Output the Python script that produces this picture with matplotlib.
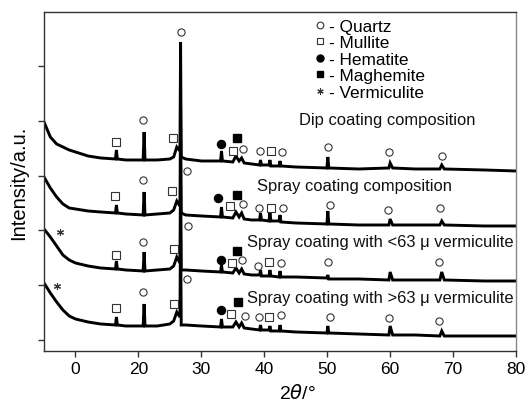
import numpy as np
import matplotlib
matplotlib.use("Agg")
import matplotlib.pyplot as plt
from matplotlib.lines import Line2D

plt.rcParams['font.family'] = ['Liberation Sans', 'DejaVu Sans']

# 2theta grid (degrees) shared by the four patterns
two_theta = [5, 6, 7, 8, 9, 10, 12, 14, 16.35, 16.5, 16.65, 18, 20.75, 20.9, 21.05, 23, 25,
             25.6, 26.1, 26.6, 26.7, 26.8, 27.5, 30, 33.05, 33.2, 33.35, 35.0, 35.5, 36.0,
             36.4, 36.8, 38, 39.25, 39.4, 39.55, 40.75, 40.9, 41.05, 42.35, 42.5, 42.65, 45,
             49.95, 50.1, 50.25, 55, 59.8, 60.0, 60.4, 64, 67.9, 68.2, 68.6, 75, 80]

# intensities (a.u., already offset for stacking)
dip = [229, 214, 207, 204, 201, 199, 195, 193, 192, 201, 192, 191, 191, 219, 191, 191, 192,
       194, 204, 200, 309, 194, 192, 190, 190, 200, 190, 189, 195, 190,
       193, 188, 187, 186, 191, 186, 186, 191, 185, 185, 190, 185, 184,
       183, 194, 183, 182, 183, 188, 183, 182, 182, 186, 182, 181, 180]
spray = [174, 163, 154, 147, 143, 142, 140, 139, 138, 146, 138, 137, 136, 159, 136, 137, 138,
         141, 150, 145, 242, 138, 136, 135, 134, 144, 134, 133, 139, 134,
         138, 132, 131, 131, 138, 131, 130, 139, 130, 130, 136, 129, 128,
         127, 140, 127, 126, 126, 132, 126, 126, 126, 130, 126, 125, 125]
spray_fine = [122, 114, 105, 96, 91, 88, 85, 83, 82, 90, 82, 81, 80, 99, 80, 81, 82,
              85, 94, 88, 187, 81, 81, 80, 79, 86, 79, 78, 83, 78,
              82, 77, 76, 76, 81, 75, 75, 81, 75, 74, 80, 74, 74,
              73, 76, 72, 72, 71, 79, 71, 71, 71, 79, 71, 70, 70]
spray_coarse = [68, 58, 49, 41, 35, 32, 29, 27, 26, 34, 26, 25, 25, 47, 25, 25, 27,
                30, 39, 34, 137, 26, 26, 25, 24, 32, 24, 24, 29, 24,
                28, 23, 22, 21, 26, 21, 21, 25, 20, 20, 26, 20, 19,
                18, 25, 18, 17, 16, 25, 16, 16, 15, 20, 15, 15, 15]

# phase markers: (2theta, a.u.) for each pattern
quartz = {
    'dip': ([26.7, 20.8, 36.6, 39.3, 42.8, 50.2, 59.8, 68.2], [319, 231, 202, 200, 199, 204, 199, 195]),
    'spray': ([27.7, 20.7, 36.6, 39.1, 42.9, 50.4, 59.6, 67.9], [180, 171, 147, 143, 143, 146, 141, 143]),
    'fine': ([27.8, 20.7, 36.4, 39.0, 42.6, 50.2, 67.8], [125, 109, 91, 85, 88, 89, 89]),
    'coarse': ([27.7, 20.8, 36.9, 39.1, 42.6, 50.4, 59.8, 67.8], [72, 59, 35, 34, 36, 34, 33, 30]),
}
mullite = {
    'dip': ([16.5, 25.5, 35.0, 41.0], [209, 213, 200, 200]),
    'spray': ([16.2, 25.4, 34.5, 41.0], [155, 160, 145, 143]),
    'fine': ([16.5, 25.6, 34.8, 40.7], [96, 102, 88, 89]),
    'coarse': ([16.4, 25.7, 34.7, 40.7], [43, 47, 37, 34]),
}
hematite_x = [33.2, 32.7, 33.2, 33.1]
hematite_y = [207, 153, 91, 41]
maghemite_x = [35.6, 35.6, 35.6, 35.9]
maghemite_y = [213, 156, 100, 49]
vermiculite_x = [7.5, 7.0]
vermiculite_y = [119, 65]

labels = ['Dip coating composition', 'Spray coating composition',
          'Spray coating with <63 \u03bc vermiculite', 'Spray coating with >63 \u03bc vermiculite']
label_x = [59.6, 54.3, 58.4, 58.4]
label_y = [231, 165, 109, 53]

x_ticks = [10, 20, 30, 40, 50, 60, 70, 80]
x_tick_labels = ['0', '20', '30', '40', '50', '60', '70', '80']
y_ticks = [11, 66, 121, 175, 230, 285]

open_kw = dict(ls='none', mfc='white', mec='#333333', mew=0.8, ms=5.2, zorder=4)


def plot_patterns(ax):
    for y in [dip, spray, spray_fine, spray_coarse]:
        ax.plot(two_theta, y, color='black', lw=2.1, solid_joinstyle='miter', zorder=2)


def plot_markers(ax):
    for key in ['dip', 'spray', 'fine', 'coarse']:
        ax.plot(*quartz[key], marker='o', **open_kw)
        ax.plot(*mullite[key], marker='s', **open_kw)
    ax.plot(hematite_x, hematite_y, ls='none', marker='o', color='black', ms=5.8, zorder=4)
    ax.plot(maghemite_x, maghemite_y, ls='none', marker='s', color='black', ms=5.8, zorder=4)
    ax.plot(vermiculite_x, vermiculite_y, ls='none', marker=(6, 2, 0), color='#333333',
            ms=5, mew=0.8, zorder=4)


def plot_legend(ax):
    handles = [
        Line2D([], [], marker='o', ls='none', mfc='white', mec='#333333', mew=0.8, ms=4.8),
        Line2D([], [], marker='s', ls='none', mfc='white', mec='#333333', mew=0.8, ms=4.8),
        Line2D([], [], marker='o', ls='none', color='black', ms=5),
        Line2D([], [], marker='s', ls='none', color='black', ms=5),
        Line2D([], [], marker=(6, 2, 0), ls='none', color='#333333', ms=4.5, mew=0.8),
    ]
    names = ['- Quartz', '- Mullite', '- Hematite', '- Maghemite', '- Vermiculite']
    ax.legend(handles, names, loc='upper left', bbox_to_anchor=(0.572, 0.98),
              frameon=False, fontsize=12.4, handlelength=0.7, handletextpad=0.18,
              labelspacing=0.085, borderpad=0, borderaxespad=0)


fig = plt.figure(figsize=(5.26, 4.02), dpi=100)
ax = fig.add_axes([0.0837, 0.1244, 0.8973, 0.8433])

plot_patterns(ax)
plot_markers(ax)
plot_legend(ax)

for t, x, y in zip(labels, label_x, label_y):
    ax.text(x, y, t, ha='center', va='center', fontsize=11.9, color='#111111')

ax.set_xlim(5, 80)
ax.set_ylim(0, 339)
ax.set_xticks(x_ticks)
ax.set_xticklabels(x_tick_labels, fontsize=12.5)
ax.set_yticks(y_ticks)
ax.set_yticklabels([])
ax.tick_params(direction='out', length=4, width=1, color='#333333')
for s in ax.spines.values():
    s.set_color('#333333')
    s.set_linewidth(1)
ax.spines['right'].set_color('#888888')

ax.set_xlabel(r'2$\theta$/°', fontsize=14)
ax.xaxis.set_label_coords(0.536, -0.095)
ax.set_ylabel('Intensity/a.u.', fontsize=14.5, labelpad=4)

fig.savefig('out.png', dpi=100)
